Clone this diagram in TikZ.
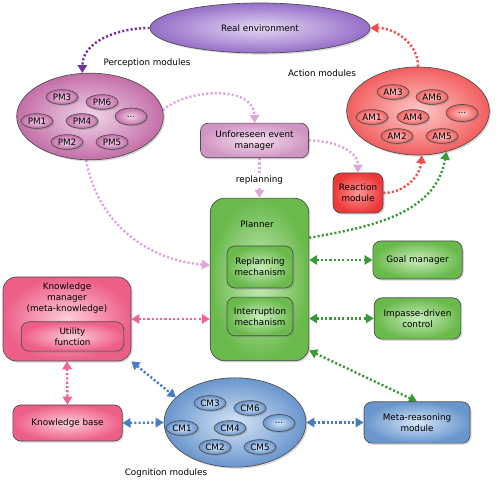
\documentclass[tikz,border=0pt]{standalone}
\usepackage{fontspec}
\setmainfont{DejaVu Sans}
\usetikzlibrary{shapes.geometric}
\usetikzlibrary{shadows}
\usetikzlibrary{arrows.meta}
\pgfdeclarelayer{edgelayer}
\pgfdeclarelayer{nodelayer}
\pgfsetlayers{edgelayer,nodelayer,main}
\definecolor{envdark}{RGB}{150,110,200}
\definecolor{envlight}{RGB}{228,216,244}
\definecolor{pmdark}{RGB}{196,110,168}
\definecolor{pmlight}{RGB}{240,214,232}
\definecolor{amdark}{RGB}{242,95,95}
\definecolor{amlight}{RGB}{255,200,200}
\definecolor{ufedark}{RGB}{208,150,195}
\definecolor{ufelight}{RGB}{244,222,238}
\definecolor{reactdark}{RGB}{238,55,55}
\definecolor{reactlight}{RGB}{255,150,150}
\definecolor{plandark}{RGB}{105,185,75}
\definecolor{planlight}{RGB}{200,236,188}
\definecolor{cogdark}{RGB}{105,150,205}
\definecolor{coglight}{RGB}{212,228,246}
\definecolor{knowdark}{RGB}{238,95,135}
\definecolor{knowlight}{RGB}{252,205,218}
\definecolor{linkpurple}{RGB}{115,50,165}
\definecolor{linkred}{RGB}{245,75,75}
\definecolor{linkmauve}{RGB}{222,165,222}
\definecolor{linkgreen}{RGB}{55,155,55}
\definecolor{linkblue}{RGB}{70,125,195}
\definecolor{linkpink}{RGB}{240,100,145}
\tikzstyle{base_shape}=[draw=black!70, line width=0.5pt, text=black, align=center, font=\fontsize{6.6}{8}\selectfont, inner sep=1pt, drop shadow={opacity=0.3, shadow xshift=1.2pt, shadow yshift=-1.2pt}]
\tikzstyle{cloud}=[base_shape, ellipse, shade]
\tikzstyle{small_module}=[base_shape, ellipse, shade, inner sep=0pt, minimum width=24pt, minimum height=11pt, drop shadow={opacity=0.2, shadow xshift=0.6pt, shadow yshift=-0.6pt}]
\tikzstyle{box}=[base_shape, rectangle, rounded corners=6pt, shade]
\tikzstyle{env_cloud}=[cloud, inner color=envlight, outer color=envdark, minimum width=165pt, minimum height=37.5pt]
\tikzstyle{pm_cloud}=[cloud, inner color=pmlight, outer color=pmdark, minimum width=110pt, minimum height=65pt]
\tikzstyle{am_cloud}=[cloud, inner color=amlight, outer color=amdark, minimum width=107pt, minimum height=66pt]
\tikzstyle{cm_cloud}=[cloud, inner color=coglight, outer color=cogdark, minimum width=106.5pt, minimum height=67pt]
\tikzstyle{pm_small}=[small_module, inner color=pmlight, outer color=pmdark]
\tikzstyle{am_small}=[small_module, inner color=amlight, outer color=amdark]
\tikzstyle{cm_small}=[small_module, inner color=coglight, outer color=cogdark]
\tikzstyle{ufe_box}=[box, inner color=ufelight, outer color=ufedark]
\tikzstyle{react_box}=[box, inner color=reactlight, outer color=reactdark]
\tikzstyle{plan_box}=[box, inner color=planlight, outer color=plandark]
\tikzstyle{cog_box}=[box, inner color=coglight, outer color=cogdark]
\tikzstyle{know_box}=[box, inner color=knowlight, outer color=knowdark]
\tikzstyle{caption_text}=[font=\fontsize{6.6}{8}\selectfont, text=black, align=center, inner sep=1pt]
\tikzstyle{dotted_link}=[line width=1.8pt, dash pattern=on 1.6pt off 1.6pt]
\tikzstyle{one_way}=[dotted_link, -{Triangle[length=6pt,width=7pt]}]
\tikzstyle{two_way}=[dotted_link, {Triangle[length=6pt,width=7pt]}-{Triangle[length=6pt,width=7pt]}]

\begin{document}
\begin{tikzpicture}[x=0.75pt, y=0.75pt]
	\useasboundingbox (0, 0) rectangle (500, 481);
	\begin{pgfonlayer}{nodelayer}
		\node [style={env_cloud}] (0) at (260, 453) {Real environment};
		\node [style={pm_cloud}] (1) at (90, 364.5) {};
		\node [style={pm_small}] (2) at (62, 384) {PM3};
		\node [style={pm_small}] (3) at (102, 379) {PM6};
		\node [style={pm_small}] (4) at (37, 360) {PM1};
		\node [style={pm_small}] (5) at (82, 360) {PM4};
		\node [style={pm_small}, minimum height=12.75pt] (6) at (131, 364.5) {...};
		\node [style={pm_small}] (7) at (67, 339) {PM2};
		\node [style={pm_small}] (8) at (112, 339) {PM5};
		\node [style={caption_text}] (9) at (147, 418) {Perception modules};
		\node [style={am_cloud}] (10) at (418, 370) {};
		\node [style={am_small}] (11) at (393, 389) {AM3};
		\node [style={am_small}] (12) at (432, 384) {AM6};
		\node [style={am_small}] (13) at (372, 364) {AM1};
		\node [style={am_small}] (14) at (413, 364) {AM4};
		\node [style={am_small}, minimum height=12.75pt] (15) at (462, 368) {...};
		\node [style={am_small}] (16) at (397, 345) {AM2};
		\node [style={am_small}] (17) at (442, 345) {AM5};
		\node [style={caption_text}] (18) at (322, 408) {Action modules};
		\node [style={ufe_box}, minimum width=81pt, minimum height=26pt] (19) at (254.5, 340.5) {Unforeseen event\\manager};
		\node [style={react_box}, minimum width=37.5pt, minimum height=30pt] (20) at (358, 288) {Reaction\\module};
		\node [style={plan_box}, rounded corners=11pt, minimum width=74pt, minimum height=122pt] (21) at (259.5, 201.5) {};
		\node [style={caption_text}] (22) at (257, 257) {Planner};
		\node [style={plan_box}, minimum width=49.5pt, minimum height=31.5pt] (23) at (260, 214) {Replanning\\mechanism};
		\node [style={plan_box}, minimum width=49.5pt, minimum height=29pt] (24) at (260, 164.5) {Interruption\\mechanism};
		\node [style={plan_box}, minimum width=67pt, minimum height=28.5pt] (25) at (417.5, 221) {Goal manager};
		\node [style={plan_box}, minimum width=65pt, minimum height=31pt] (26) at (417.5, 162.5) {Impasse-driven\\control};
		\node [style={cog_box}, minimum width=79.5pt, minimum height=31pt] (27) at (417, 58.5) {Meta-reasoning\\module};
		\node [style={cm_cloud}] (28) at (235, 58.5) {};
		\node [style={cm_small}] (29) at (210, 78) {CM3};
		\node [style={cm_small}] (30) at (250, 73) {CM6};
		\node [style={cm_small}] (31) at (182, 53) {CM1};
		\node [style={cm_small}] (32) at (230, 53) {CM4};
		\node [style={cm_small}, minimum height=12.75pt] (33) at (279, 58) {...};
		\node [style={cm_small}] (34) at (215, 34) {CM2};
		\node [style={cm_small}] (35) at (260, 34) {CM5};
		\node [style={caption_text}] (36) at (166, 8) {Cognition modules};
		\node [style={know_box}, rounded corners=10pt, minimum width=96pt, minimum height=63pt] (37) at (67, 162) {};
		\node [style={caption_text}] (38) at (67, 183) {Knowledge\\manager\\(meta-knowledge)};
		\node [style={know_box}, minimum width=77pt, minimum height=22pt] (39) at (72.5, 144.5) {Utility\\function};
		\node [style={know_box}, minimum width=82pt, minimum height=27pt] (40) at (67.5, 58) {Knowledge base};
	\end{pgfonlayer}
	\begin{pgfonlayer}{edgelayer}
		\draw [style={one_way}, draw=linkpurple] (0.west) to [out=180, in=90] (1.100);
		\draw [style={one_way}, draw=linkred] (10.north) to [out=90, in=0] (0.east);
		\draw [style={one_way}, draw=linkmauve] (1.5) to [out=40, in=90] (19.north);
		\draw [style={one_way}, draw=linkmauve] (19.east) to [out=0, in=90] (20.north);
		\draw [style={one_way}, draw=linkmauve] (19.south -| 21.north) to node [caption_text, fill=white, pos=0.55] {replanning} (21.north);
		\draw [style={one_way}, draw=linkmauve] (1.-95) to [out=-80, in=175] (21.164);
		\draw [style={one_way}, draw=linkred] (20.east) to [out=0, in=-95] (10.-85);
		\draw [style={one_way}, draw=linkgreen] (21.40) to [out=10, in=-100] (10.-55);
		\draw [style={two_way}, draw=linkgreen] (21.east |- 25.west) to (25.west);
		\draw [style={two_way}, draw=linkgreen] (21.east |- 26.west) to (26.west);
		\draw [style={two_way}, draw=linkgreen] (21.-55) to (27.north);
		\draw [style={two_way}, draw=linkblue] (28.east) to (27.west);
		\draw [style={two_way}, draw=linkpink] (37.east) to (37.east -| 21.west);
		\draw [style={two_way}, draw=linkpink] (37.south) to (40.north);
		\draw [style={two_way}, draw=linkblue] (37.south east) to (28.157);
		\draw [style={two_way}, draw=linkblue] (40.east) to (28.west);
	\end{pgfonlayer}
\end{tikzpicture}
\end{document}
